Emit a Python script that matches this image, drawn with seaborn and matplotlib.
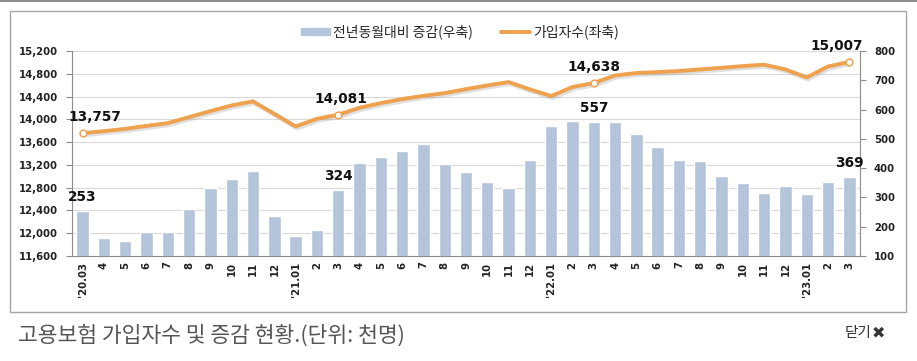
import numpy as np
import pandas as pd
import seaborn as sns
import matplotlib.pyplot as plt
import matplotlib.patheffects as pe
from matplotlib.patches import Rectangle
from matplotlib.lines import Line2D
from matplotlib.ticker import StrMethodFormatter

# months, '20.03 ~ '23.03
months = ["'20.03", "4", "5", "6", "7", "8", "9", "10", "11", "12",
          "'21.01", "2", "3", "4", "5", "6", "7", "8", "9", "10", "11", "12",
          "'22.01", "2", "3", "4", "5", "6", "7", "8", "9", "10", "11", "12",
          "'23.01", "2", "3"]

# 가입자수 (천명, left axis)
subscribers = [13757, 13792, 13833, 13885, 13933, 14039, 14144, 14245, 14315, 14097,
               13875, 14009, 14081, 14202, 14285, 14355, 14413, 14460, 14530, 14595,
               14655, 14526, 14409, 14567, 14638, 14770, 14813, 14830, 14848, 14877,
               14905, 14935, 14960, 14877, 14735, 14928, 15007]

# 전년동월대비 증감 (천명, right axis)
yoy_change = [253, 161, 151, 182, 182, 260, 332, 363, 390, 236,
              168, 189, 324, 417, 438, 458, 483, 414, 387, 352,
              332, 428, 544, 561, 557, 557, 517, 472, 428, 424,
              373, 349, 315, 339, 312, 352, 369]

labeled = [0, 12, 24, 36]   # points with value labels

bar_col = '#B3C4DB'
line_col = '#EEA24F'
axis_col = '#8C8C8C'

sns.set_style("white")
plt.rcParams['font.family'] = ['DejaVu Sans']
kr = ['Noto Sans CJK KR', 'DejaVu Sans']

df = pd.DataFrame({'pos': np.arange(len(months)), 'month': months,
                   'subs': subscribers, 'chg': yoy_change})

fig = plt.figure(figsize=(9.17, 3.61), dpi=100)
ax = fig.add_axes([72/917, 1-256/361, (860-72)/917, 205/361])
ax2 = ax.twinx()   # bars, right axis
ax3 = ax.twinx()   # line, same scale as left axis, drawn on top

sns.barplot(data=df, x='pos', y='chg', ax=ax2, color=bar_col, saturation=1, width=0.58)
sns.lineplot(data=df, x='pos', y='subs', ax=ax3, color=line_col, lw=2.8,
             path_effects=[pe.SimpleLineShadow(offset=(1, -1.5), shadow_color='#999999', alpha=0.3),
                           pe.Normal()])
sel = df.iloc[labeled]
ax3.scatter(sel['pos'], sel['subs'], s=24, facecolor='white', edgecolor=line_col, lw=1.1, zorder=5)

# axes limits / ticks
ax.set_ylim(11600, 15200)
ax.set_yticks(np.arange(11600, 15201, 400))
ax.yaxis.set_major_formatter(StrMethodFormatter('{x:,.0f}'))
ax2.set_ylim(100, 800)
ax2.set_yticks(np.arange(100, 801, 100))
ax3.set_ylim(ax.get_ylim())
ax3.axis('off')

ax.set_xlim(-0.5, len(months) - 0.5)
ax.set_xticks(df['pos'])
ax.set_xticklabels(months, rotation=90)
ax.set_xticks(np.arange(-0.5, len(months), 1), minor=True)
ax.tick_params(axis='x', which='major', length=0, pad=4, labelsize=7.3, labelcolor='#222222')
ax.tick_params(axis='x', which='minor', length=4, direction='out', color=axis_col, width=0.8)
ax.tick_params(axis='y', length=4, direction='out', color=axis_col, width=0.8, pad=6,
               labelsize=7.3, labelcolor='#222222', left=True)
ax2.tick_params(axis='y', length=4, direction='out', color=axis_col, width=0.8, pad=6,
                labelsize=7.3, labelcolor='#222222', right=True)
for lbl in ax.get_xticklabels() + ax.get_yticklabels() + ax2.get_yticklabels():
    lbl.set_fontweight('bold')

for a in (ax, ax2):
    a.set_xlabel('')
    a.set_ylabel('')
ax.yaxis.grid(True, color='#D9D9D9', lw=0.8)
ax.set_axisbelow(True)
for s in ('top', 'right'):
    ax.spines[s].set_visible(False)
for s in ('left', 'bottom'):
    ax.spines[s].set_color(axis_col)
    ax.spines[s].set_linewidth(0.8)
for s in ('top', 'left', 'bottom'):
    ax2.spines[s].set_visible(False)
ax2.spines['right'].set_color(axis_col)
ax2.spines['right'].set_linewidth(0.8)

# value labels
line_dx = {0: 9, 12: 2, 24: 0, 36: -9}
for i in labeled:
    ax2.annotate(f"{yoy_change[i]}", (i, yoy_change[i]), xytext=(0, 5), textcoords='offset points',
                 ha='center', va='bottom', fontsize=9.8, fontweight='bold', color='#111111')
    ax3.annotate(f"{subscribers[i]:,}", (i, subscribers[i]), xytext=(line_dx[i], 6.5),
                 textcoords='offset points', ha='center', va='bottom',
                 fontsize=9.8, fontweight='bold', color='#111111')

# legend
handles = [Rectangle((0, 0), 1, 1, color=bar_col), Line2D([], [], color=line_col, lw=2.8)]
fig.legend(handles, ['전년동월대비 증감(우축)', '가입자수(좌축)'], loc='center',
           bbox_to_anchor=(460/917, 1-32/361), ncol=2, frameon=False,
           prop={'family': kr, 'size': 10}, handlelength=2.1, handleheight=0.5,
           handletextpad=0.25, columnspacing=2.0)

# frame and page elements
fig.add_artist(Rectangle((10/917, 1-312/361), (906-10)/917, (312-11)/361,
                         transform=fig.transFigure, fill=False, ec='#A6A6A6', lw=1))
fig.add_artist(Line2D([0, 1], [1-1/361, 1-1/361], transform=fig.transFigure, color='#777777', lw=1.2))
fig.text(18/917, 1-336/361, '고용보험 가입자수 및 증감 현황.(단위: 천명)', family=kr,
         fontsize=15.5, color='#555555', va='center', fontweight='light')
fig.text(871/917, 1-333/361, '닫기', family=kr, fontsize=10.5, color='#333333',
         va='center', ha='right')
fig.text(872/917, 1-333/361, '✖', family=['DejaVu Sans'], fontsize=11.5, color='#333333',
         va='center', ha='left')

fig.savefig('out.png', dpi=100)
